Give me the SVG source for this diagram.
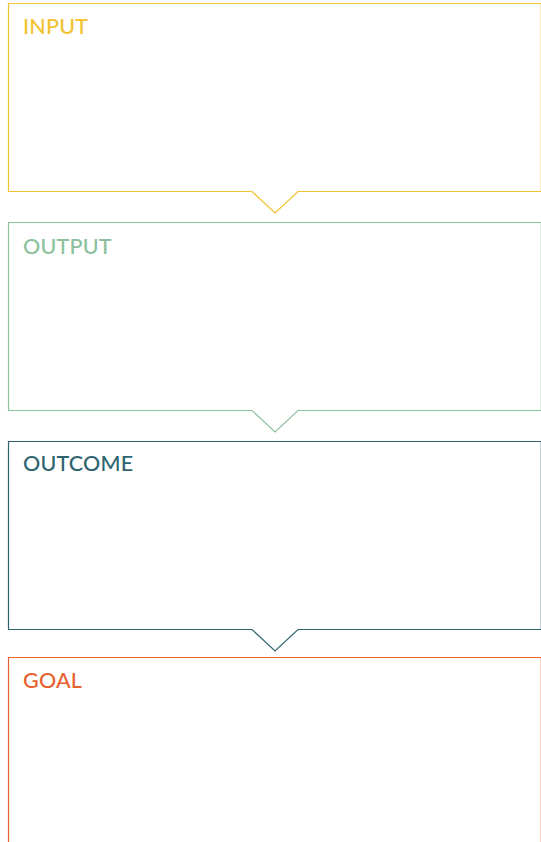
<svg xmlns="http://www.w3.org/2000/svg" width="541" height="842" viewBox="0 0 541 842">
<style>
.box{fill:#fff;stroke-width:1.2}
.t{font-family:Lato,"Open Sans",sans-serif;font-size:21.5px;font-weight:500;letter-spacing:0.2px}
</style>
<rect width="541" height="842" fill="#fff"/>
<g id="input">
<path class="box" stroke="#F1C22E" d="M8.5 3.5H541.3V191.5H298L275 213L252 191.5H8.5Z"/>
<text class="t" x="23" y="33.5" fill="#F1C22E">INPUT</text>
</g>
<g id="output">
<path class="box" stroke="#8DC19D" d="M8.5 222.5H541.3V410.5H298L275 432L252 410.5H8.5Z"/>
<text class="t" x="23" y="253.5" fill="#8DC19D">OUTPUT</text>
</g>
<g id="outcome">
<path class="box" stroke="#2E6470" d="M8.5 441.5H541.3V629.5H298L275 651L252 629.5H8.5Z"/>
<text class="t" x="23" y="471" fill="#2E6470">OUTCOME</text>
</g>
<g id="goal">
<path class="box" stroke="#E8602C" d="M8.5 850V657.5H541.3V850"/>
<text class="t" x="23" y="687.5" fill="#E8602C">GOAL</text>
</g>
<g id="connectors"></g>
</svg>
